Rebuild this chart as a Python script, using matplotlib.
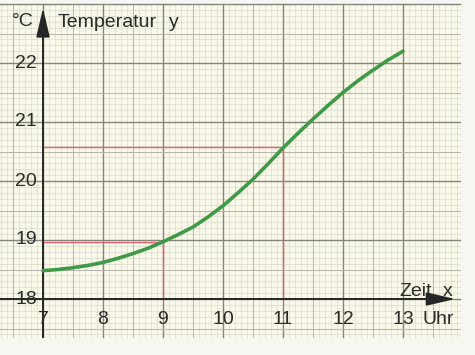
import matplotlib
matplotlib.use('Agg')
import matplotlib.pyplot as plt
from matplotlib.patches import Rectangle
import numpy as np

# ---- data ----
hours = [7, 7.25, 7.5, 7.75, 8, 8.25, 8.5, 8.75, 9, 9.25, 9.5, 9.75, 10,
         10.25, 10.5, 10.75, 11, 11.25, 11.5, 11.75, 12, 12.25, 12.5, 12.75, 13]
temps = [18.48, 18.5, 18.53, 18.57, 18.62, 18.69, 18.77, 18.86, 18.97, 19.09, 19.22, 19.39, 19.58,
         19.8, 20.03, 20.29, 20.56, 20.81, 21.05, 21.28, 21.5, 21.7, 21.88, 22.05, 22.2]
x_ticks = [7, 8, 9, 10, 11, 12, 13]
y_ticks = [18, 19, 20, 21, 22]
guide_x = [9, 11]
guide_y = [18.97, 20.58]

plt.rcParams['font.family'] = ['Liberation Sans', 'DejaVu Sans']
FS = 14

fig = plt.figure(figsize=(4.75, 3.55), dpi=100)
fig.patch.set_facecolor('#f7f6f0')
ax = fig.add_axes([0, 0, 1, 1])
X0, X1 = 7 - 43 / 60, 7 + 432 / 60
Y0, Y1 = 18 - 56 / 59, 18 + 299 / 59
ax.set_xlim(X0, X1)
ax.set_ylim(Y0, Y1)
ax.axis('off')

# paper
PX0, PX1, PY0, PY1 = X0, 13.95, 17.35, 23.0
ax.add_patch(Rectangle((PX0, PY0), PX1 - PX0, PY1 - PY0, fc='#faf8e8', ec='none', zorder=0))

# graph-paper grid
def style(k):
    if k % 10 == 0:
        return '#85857f', 1.0
    if k % 5 == 0:
        return '#b4b4ac', 0.7
    return '#d9d9cf', 0.5

for k in range(63, 140):
    c, lw = style(k)
    ax.plot([k / 10, k / 10], [PY0, PY1], color=c, lw=lw, zorder=1 + (k % 5 == 0))
for k in range(174, 231):
    c, lw = style(k)
    ax.plot([PX0, PX1], [k / 10, k / 10], color=c, lw=lw, zorder=1 + (k % 5 == 0))

# red reading lines
for gx, gy in zip(guide_x, guide_y):
    ax.plot([7, gx], [gy, gy], color='#e9606f', lw=1.0, zorder=3)
    ax.plot([gx, gx], [18, gy], color='#e9606f', lw=1.0, zorder=3)

# axes with arrows
ac = '#262626'
ax.plot([7, 7], [PY0, 22.6], color=ac, lw=1.4, zorder=4)
ax.plot([X0, 13.5], [18, 18], color=ac, lw=1.4, zorder=4)
arrow = dict(arrowstyle='-|>,head_length=1.8,head_width=0.42',
             color=ac, lw=1.2, mutation_scale=10, shrinkA=0, shrinkB=0)
ax.annotate('', xy=(7, 22.93), xytext=(7, 22.45), arrowprops=arrow, zorder=5)
ax.annotate('', xy=(13.87, 18), xytext=(13.3, 18), arrowprops=arrow, zorder=5)

# curve
ax.plot(hours, temps, color='#3f9a48', lw=2.6, solid_capstyle='round',
        solid_joinstyle='round', zorder=6)

# tick labels
tc = '#2a2a2a'
for t in x_ticks:
    ax.text(t, 17.645, str(t), ha='center', va='center', fontsize=FS, color=tc, zorder=7)
for t in y_ticks:
    ax.text(6.9, t, str(t), ha='right', va='center', fontsize=FS, color=tc, zorder=7)

# axis titles
ax.text(6.48, 22.63, '°C', ha='left', va='baseline', fontsize=FS, color=tc, zorder=7)
ax.text(7.24, 22.61, 'Temperatur', ha='left', va='baseline', fontsize=FS, color=tc, zorder=7)
ax.text(9.1, 22.61, 'y', ha='left', va='baseline', fontsize=FS, color=tc, zorder=7)
ax.text(12.94, 18.05, 'Zeit', ha='left', va='baseline', fontsize=FS, color=tc, zorder=7)
ax.text(13.67, 18.05, 'x', ha='left', va='baseline', fontsize=FS, color=tc, zorder=7)
ax.text(13.32, 17.645, 'Uhr', ha='left', va='center', fontsize=FS, color=tc, zorder=7)

fig.savefig('out.png', dpi=100, facecolor=fig.get_facecolor())
